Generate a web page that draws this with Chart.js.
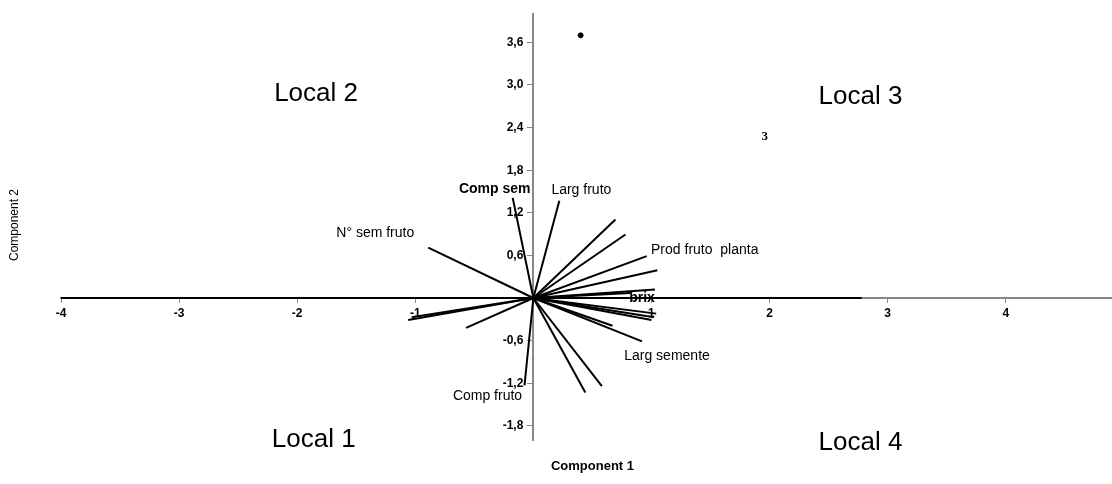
<!DOCTYPE html>
<html>
<head>
<meta charset="utf-8">
<script src="https://cdn.jsdelivr.net/npm/chart.js@4"></script>
<style>
  html, body { margin: 0; padding: 0; background: #fff; }
  #wrap { width: 1112px; height: 484px; position: relative; }
</style>
</head>
<body>
<div id="wrap"><canvas id="biplot"></canvas></div>
<script>
// Loadings (vector end points)
var vecLabels = ['Comp sem', 'Larg fruto', '', '', 'Prod fruto  planta', '', 'brix', '', '', '', '', '', 'Larg semente', '', '', 'Comp fruto', '', '', '', 'N\u00b0 sem fruto'];
var vecX = [-0.175, 0.22, 0.695, 0.78, 0.96, 1.05, 1.03, 0.82, 1.04, 1.02, 1.00, 0.67, 0.92, 0.58, 0.44, -0.075, -0.57, -1.06, -1.03, -0.89];
var vecY = [1.41, 1.37, 1.105, 0.895, 0.59, 0.39, 0.12, 0.07, -0.22, -0.27, -0.31, -0.39, -0.61, -1.24, -1.33, -1.23, -0.42, -0.31, -0.27, 0.71];

// Scores
var scoreX = [0.40, 1.96];
var scoreY = [3.70, 2.27];
var scoreLabels = ['', '3'];

// Axis ticks
var xTicks = [-4, -3, -2, -1, 1, 2, 3, 4];
var yTicks = [-1.8, -1.2, -0.6, 0.6, 1.2, 1.8, 2.4, 3.0, 3.6];

// dark part of the horizontal axis
var baseLineX = [-4, 2.78];

// quadrant captions
var quadLabels = ['Local 2', 'Local 3', 'Local 1', 'Local 4'];
var quadX = [-1.84, 2.77, -1.86, 2.77];
var quadY = [2.88, 2.84, -2.0, -2.04];

// label offsets in px from the vector tip (style only)
var labelOffset = {
  'Comp sem': [-18, -9, 'bold'],
  'Larg fruto': [22, -11, ''],
  'Prod fruto  planta': [58, -6, ''],
  'brix': [-13, 9, 'bold'],
  'Larg semente': [25, 15, ''],
  'Comp fruto': [-37, 11, ''],
  'N\u00b0 sem fruto': [-53, -14, '']
};

var FONT = '"Liberation Sans", Arial, sans-serif';

var datasets = [];
datasets.push({
  data: baseLineX.map(function (x) { return { x: x, y: 0 }; }),
  showLine: true, borderColor: '#000', borderWidth: 2, pointRadius: 0, clip: false
});
vecX.forEach(function (x, i) {
  datasets.push({
    data: [{ x: 0, y: 0 }, { x: x, y: vecY[i] }],
    showLine: true, borderColor: '#000', borderWidth: 2, pointRadius: 0, clip: false
  });
});
datasets.push({
  data: scoreX.map(function (x, i) { return { x: x, y: scoreY[i] }; }),
  showLine: false,
  pointRadius: scoreLabels.map(function (l) { return l ? 0 : 2.5; }),
  pointBackgroundColor: '#000', pointBorderColor: '#000', clip: false
});

var textPlugin = {
  id: 'biplotText',
  afterDatasetsDraw: function (chart) {
    var ctx = chart.ctx, sx = chart.scales.x, sy = chart.scales.y, a = chart.chartArea;
    ctx.save();
    ctx.fillStyle = '#000';
    ctx.textAlign = 'center';
    ctx.textBaseline = 'middle';

    vecLabels.forEach(function (l, i) {
      if (!l) return;
      var o = labelOffset[l] || [0, 0, ''];
      ctx.font = (o[2] ? o[2] + ' ' : '') + '14px ' + FONT;
      ctx.fillText(l, sx.getPixelForValue(vecX[i]) + o[0], sy.getPixelForValue(vecY[i]) + o[1]);
    });

    ctx.font = 'bold 13px "Liberation Serif", "Times New Roman", serif';
    scoreLabels.forEach(function (l, i) {
      if (!l) return;
      ctx.fillText(l, sx.getPixelForValue(scoreX[i]), sy.getPixelForValue(scoreY[i]));
    });

    ctx.font = '26px ' + FONT;
    quadLabels.forEach(function (l, i) {
      ctx.fillText(l, sx.getPixelForValue(quadX[i]), sy.getPixelForValue(quadY[i]));
    });

    // axis titles
    ctx.font = 'bold 13px ' + FONT;
    ctx.fillText('Component 1', (a.left + a.right) / 2 + 6, a.bottom + 26);
    ctx.font = '12px ' + FONT;
    ctx.translate(15, (a.top + a.bottom) / 2 - 2);
    ctx.rotate(-Math.PI / 2);
    ctx.fillText('Component 2', 0, 0);
    ctx.restore();
  }
};

new Chart(document.getElementById('biplot').getContext('2d'), {
  type: 'scatter',
  data: { datasets: datasets },
  options: {
    responsive: true,
    maintainAspectRatio: false,
    animation: false,
    layout: { autoPadding: false, padding: { left: 61, right: 0, top: 14, bottom: 44 } },
    plugins: { legend: { display: false }, tooltip: { enabled: false } },
    scales: {
      x: {
        type: 'linear', axis: 'x', position: { y: 0 },
        min: -4, max: 4.9,
        afterBuildTicks: function (s) { s.ticks = xTicks.map(function (v) { return { value: v }; }); },
        afterFit: function (s) { s.height = 0; s.paddingLeft = s.paddingRight = 0; },
        grid: { display: true, drawOnChartArea: false, drawTicks: true, tickLength: 4, tickColor: '#888' },
        border: { display: true, color: '#888', width: 2 },
        ticks: {
          autoSkip: false, maxRotation: 0, padding: 4, color: '#000',
          font: { family: FONT, size: 12, weight: 'bold' },
          callback: function (v) { return String(v); }
        }
      },
      y: {
        type: 'linear', axis: 'y', position: { x: 0 },
        min: -2, max: 4,
        afterBuildTicks: function (s) { s.ticks = yTicks.map(function (v) { return { value: v }; }); },
        afterFit: function (s) { s.width = 0; s.paddingTop = s.paddingBottom = 0; },
        grid: { display: true, drawOnChartArea: false, drawTicks: true, tickLength: 5, tickColor: '#888' },
        border: { display: true, color: '#888', width: 2 },
        ticks: {
          autoSkip: false, padding: 2, color: '#000',
          font: { family: FONT, size: 12, weight: 'bold' },
          // centred axes put the label right on the line, so pad with spaces
          callback: function (v) { return v.toFixed(1).replace('.', ',') + '   '; }
        }
      }
    }
  },
  plugins: [textPlugin]
});
</script>
</body>
</html>
